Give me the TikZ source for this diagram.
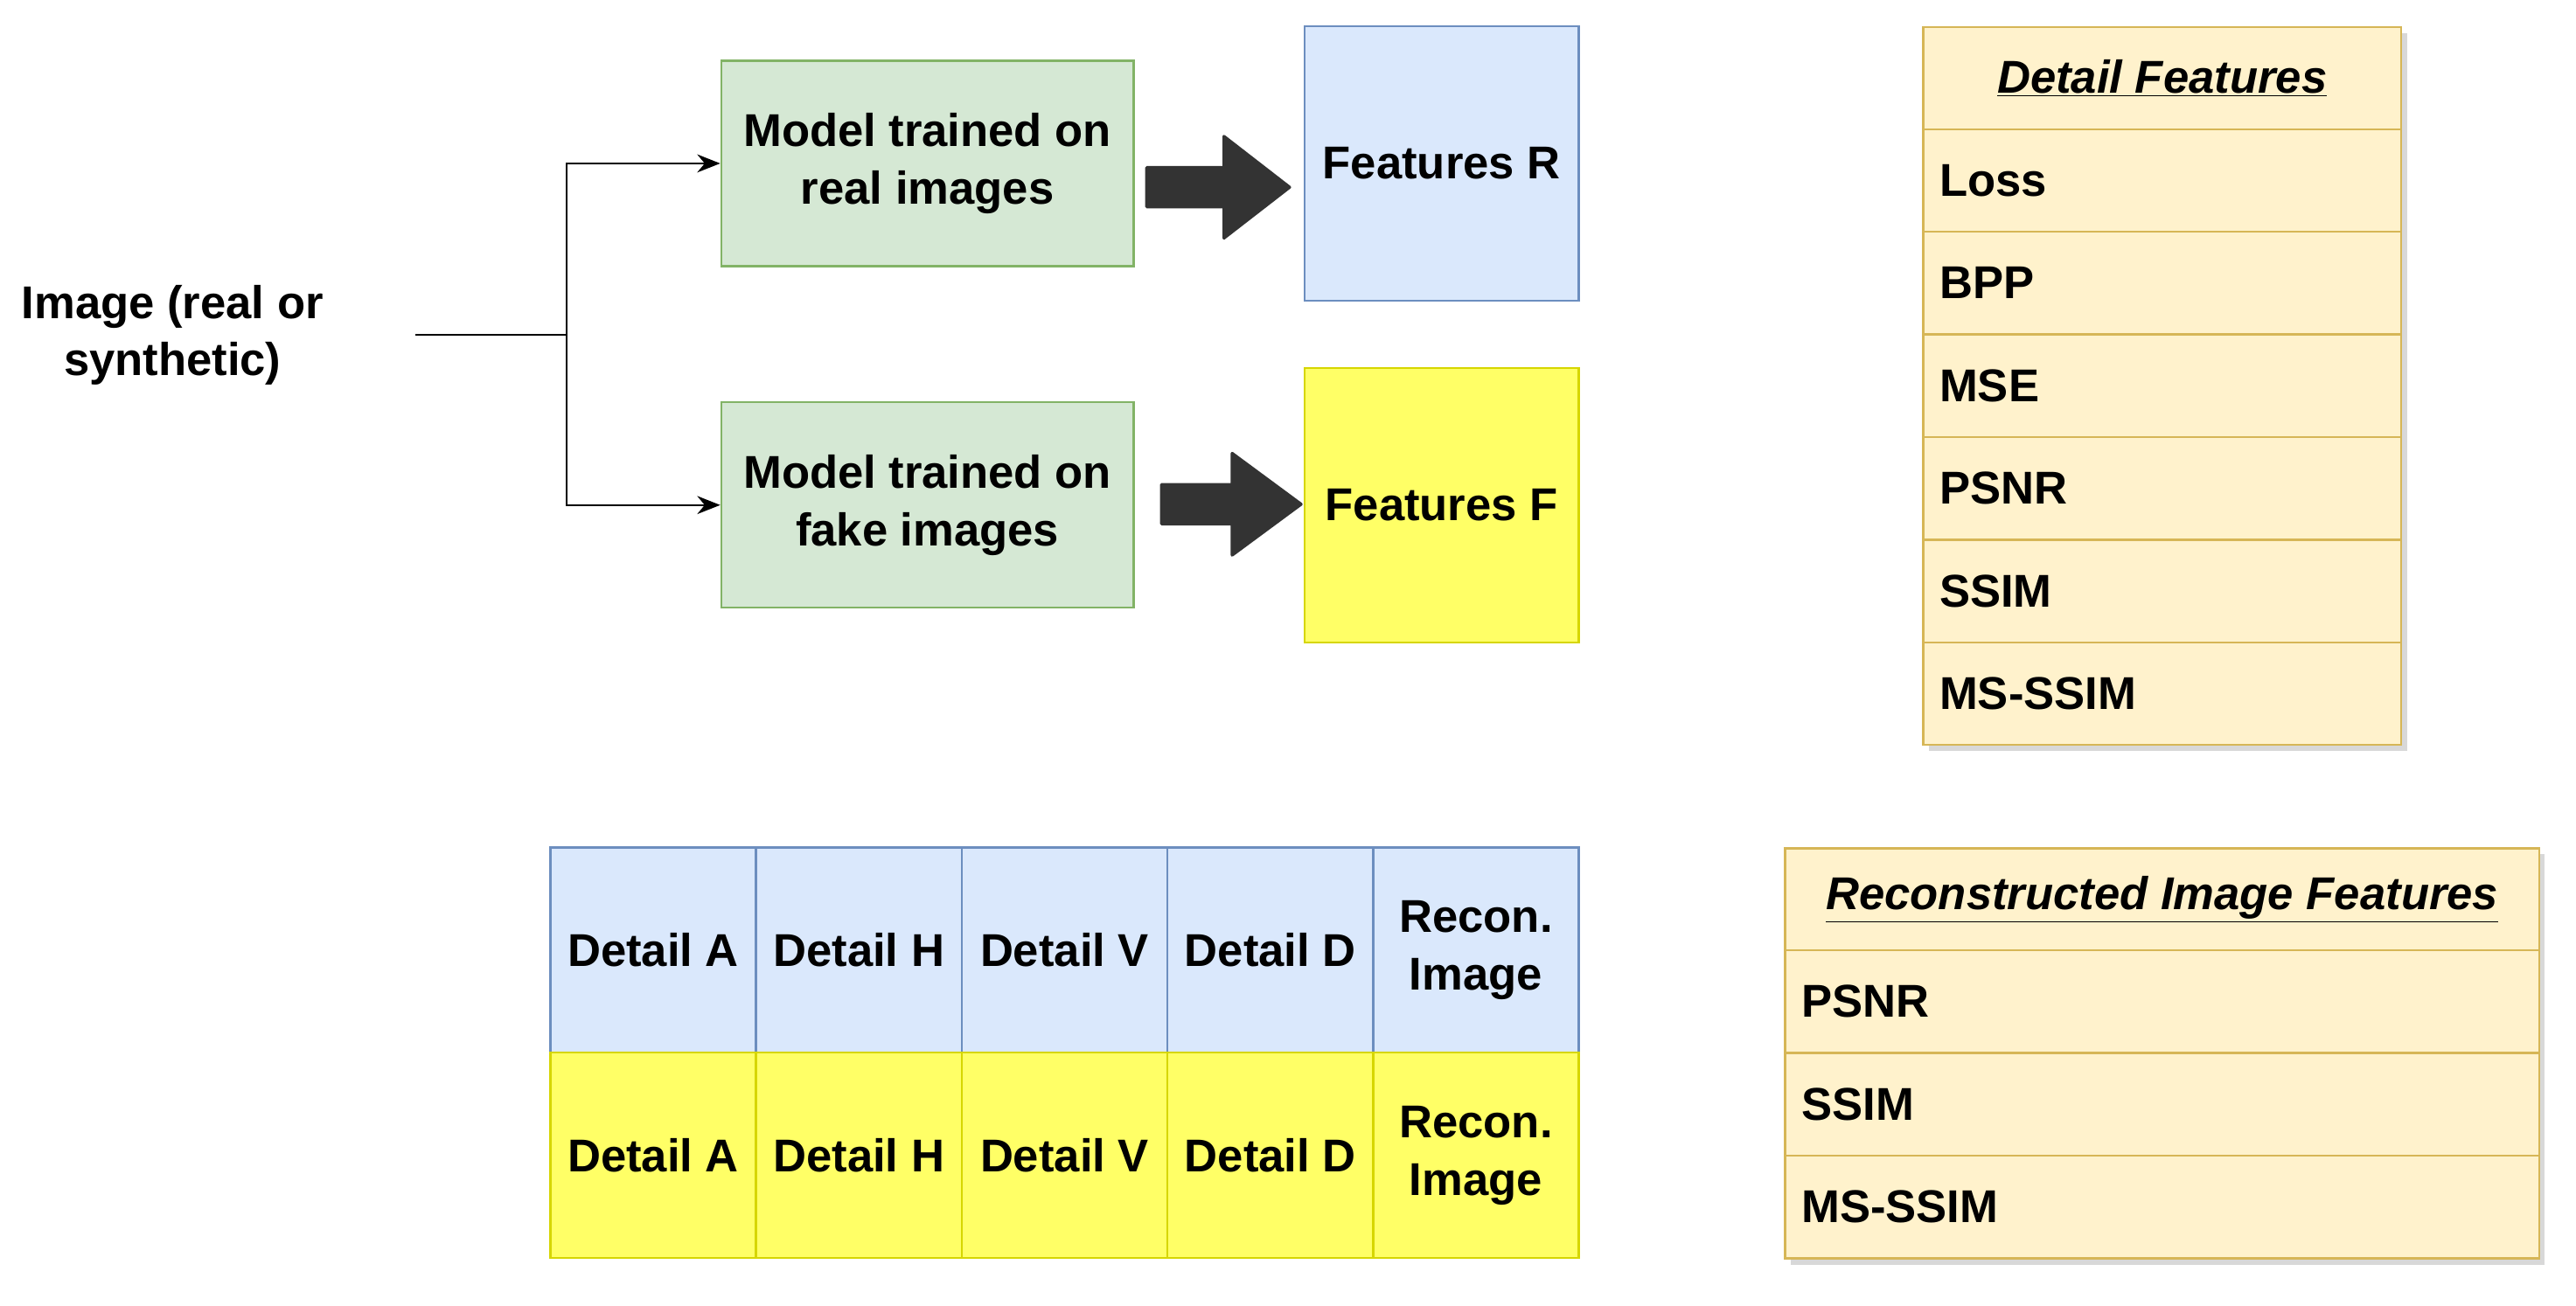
\documentclass[tikz,border=0pt]{standalone}
\usepackage{fontspec}
\setmainfont{Liberation Sans}
\usetikzlibrary{arrows.meta}
\definecolor{gfill}{HTML}{D5E8D4}\definecolor{gline}{HTML}{82B366}
\definecolor{bfill}{HTML}{DAE8FC}\definecolor{bline}{HTML}{6C8EBF}
\definecolor{yfill}{HTML}{FFFF66}\definecolor{yline}{HTML}{D6D600}
\definecolor{ofill}{HTML}{FFF2CC}\definecolor{oline}{HTML}{D6B656}
\begin{document}
\begin{tikzpicture}[x=1pt,y=-1pt,
  every node/.style={font=\fontsize{28}{35}\selectfont\bfseries},
  box/.style={draw,line width=1.2pt,inner sep=0pt,align=center},
  green/.style={box,fill=gfill,draw=gline,minimum width=251pt,minimum height=125pt},
  feat/.style={box,minimum width=167pt,minimum height=167pt},
  cell/.style={box,minimum width=125pt,minimum height=125pt},
  row/.style={box,fill=ofill,draw=oline,anchor=north west,align=left,text width=#1,inner xsep=10pt,minimum height=62.5pt},
  hdr/.style={box,fill=ofill,draw=oline,anchor=north west,minimum width=#1,minimum height=62pt,font=\fontsize{28}{30}\selectfont\bfseries\itshape},
  shade/.style={fill=black!30,opacity=0.5},
  blk/.style={draw,line width=1.8pt,fill=white,line join=round,black!80},
  conn/.style={line width=1.2pt,-{Stealth[length=14pt,width=11pt]}}]
\useasboundingbox (0,0) rectangle (1568,795);
\node[align=center] (img) at (105,204) {Image (real or\\synthetic)};
\coordinate (s) at (253,204);
\coordinate (j) at (345,204);
\node[green] (m1) at (564.5,99.5) {Model trained on\\real images};
\node[green] (m2) at (564.5,307.5) {Model trained on\\fake images};
\draw[line width=1.2pt] (s) -- (j);
\draw[conn] (j) |- (m1.west);
\draw[conn] (j) |- (m2.west);
\node[feat,fill=bfill,draw=bline] (fr) at (877.5,99.5) {Features R};
\node[feat,fill=yfill,draw=yline] (ff) at (877.5,307.5) {Features F};
% block arrows
\draw[blk] (698,102) -- (745,102) -- (745,83) -- (785,114) -- (745,145) -- (745,126) -- (698,126) -- cycle;
\draw[blk] (707,295) -- (750,295) -- (750,276) -- (792,307) -- (750,338) -- (750,319) -- (707,319) -- cycle;
% detail features table
\fill[shade] (1174,20) rectangle (1465,457);
\node[hdr=291pt] (dh) at (1170,16) {\underline{Detail Features}};
\node[row=271pt] (d1) at (1170,78) {Loss};
\node[row=271pt] (d2) at (1170,140.5) {BPP};
\node[row=271pt] (d3) at (1170,203) {MSE};
\node[row=271pt] (d4) at (1170,265.5) {PSNR};
\node[row=271pt] (d5) at (1170,328) {SSIM};
\node[row=271pt] (d6) at (1170,390.5) {MS-SSIM};
% reconstructed features
\fill[shade] (1090,520) rectangle (1549,770);
\node[hdr=459pt] (rh) at (1086,516) {\underline{Reconstructed Image Features}};
\node[row=439pt] (r1) at (1086,578) {PSNR};
\node[row=439pt] (r2) at (1086,640.5) {SSIM};
\node[row=439pt] (r3) at (1086,703) {MS-SSIM};
% grid
\foreach \t [count=\i] in {Detail A,Detail H,Detail V,Detail D,Recon.\\Image}{
  \node[cell,fill=bfill,draw=bline] (b\i) at (335+125.2*\i-62.6,578.5) {\t};
  \node[cell,fill=yfill,draw=yline] (y\i) at (335+125.2*\i-62.6,703.5) {\t};
}
\end{tikzpicture}
\end{document}
